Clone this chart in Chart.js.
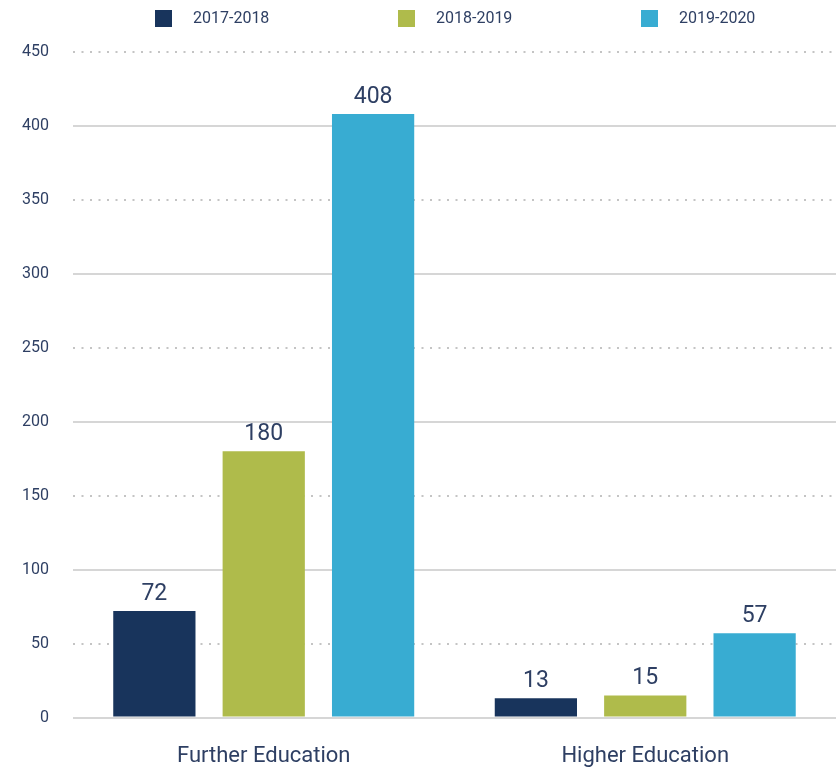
<!DOCTYPE html>
<html>
<head>
<meta charset="utf-8">
<script src="https://cdn.jsdelivr.net/npm/chart.js@4/dist/chart.umd.min.js"></script>
<style>
  html, body { margin: 0; padding: 0; background: #fff; }
  #wrap { width: 836px; height: 772px; position: relative; }
</style>
</head>
<body>
<div id="wrap"><canvas id="edu-chart"></canvas></div>
<script>
// ------------------ DATA -------------------//
const categories = ["Further Education", "Higher Education"];
const yearLabels = ["2017-2018", "2018-2019", "2019-2020"];
const values1718 = [72, 13];
const values1819 = [180, 15];
const values1920 = [408, 57];
const yTicks = [0, 50, 100, 150, 200, 250, 300, 350, 400, 450];

const barColors = ['#18345c', '#afbb4b', '#38acd2'];
const textColor = '#2e3f63';
const fontFamily = "'Roboto', sans-serif";

// ------------------ LEGEND (drawn on top) -------------------//
const topLegend = {
    id: 'topLegend',
    afterDraw(chart) {
        const ctx = chart.ctx;
        ctx.save();
        ctx.font = '16px ' + fontFamily;
        ctx.textBaseline = 'middle';
        chart.data.datasets.forEach((ds, i) => {
            const x = 155 + i * 243;
            ctx.fillStyle = ds.backgroundColor;
            ctx.fillRect(x, 10, 17, 17);
            ctx.fillStyle = textColor;
            ctx.fillText(ds.label, x + 38, 19);
        });
        ctx.restore();
    }
};

// ------------------ VALUE LABELS -------------------//
const valueLabels = {
    id: 'valueLabels',
    afterDatasetsDraw(chart) {
        const ctx = chart.ctx;
        ctx.save();
        ctx.font = '23px ' + fontFamily;
        ctx.fillStyle = textColor;
        ctx.textAlign = 'center';
        ctx.textBaseline = 'alphabetic';
        chart.data.datasets.forEach((ds, i) => {
            chart.getDatasetMeta(i).data.forEach((bar, j) => {
                ctx.fillText(ds.data[j], bar.x, bar.y - 11);
            });
        });
        ctx.restore();
    }
};

const eduCanvas = document.getElementById('edu-chart');
const eduData = {
    labels: categories,
    datasets: [values1718, values1819, values1920].map((vals, i) => ({
        label: yearLabels[i],
        data: vals,
        backgroundColor: barColors[i],
        borderWidth: 0,
        categoryPercentage: 0.86,
        barPercentage: 0.752
    }))
};

const eduOptions = {
    responsive: true,
    maintainAspectRatio: false,
    animation: { duration: 0 },
    layout: { padding: { top: 52, left: -2, right: 0, bottom: -24 } },
    scales: {
        x: {
            grid: { display: false, drawTicks: false },
            border: { display: false },
            ticks: {
                color: textColor,
                padding: 26,
                font: { family: fontFamily, size: 22 }
            }
        },
        y: {
            min: 0,
            max: 450,
            afterBuildTicks: axis => {
                axis.ticks = yTicks.map(v => ({ value: v }));
            },
            grid: {
                drawTicks: false,
                lineWidth: 2,
                color: c => (c.tick && c.tick.value % 100 === 0) ? '#d6d6d6' : '#c4c4c4'
            },
            border: {
                display: false,
                dash: c => (c.tick && c.tick.value % 100 !== 0) ? [2, 6.5] : []
            },
            ticks: {
                color: textColor,
                padding: 24,
                font: { family: fontFamily, size: 16 }
            }
        }
    },
    plugins: {
        legend: { display: false },
        tooltip: { enabled: false }
    }
};

let eduChart = new Chart(eduCanvas, {
    type: 'bar',
    data: eduData,
    options: eduOptions,
    plugins: [topLegend, valueLabels]
});
</script>
</body>
</html>
